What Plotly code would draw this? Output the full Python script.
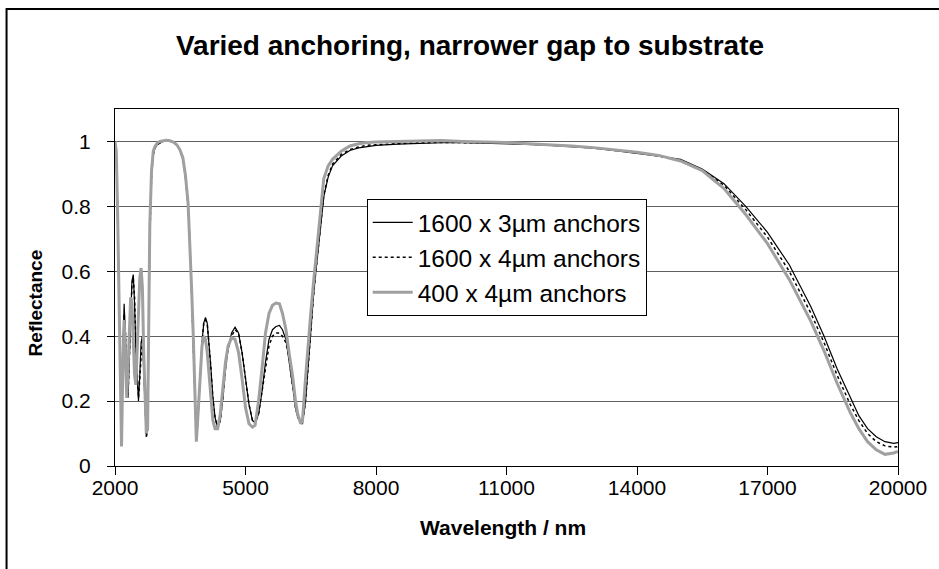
import plotly.graph_objects as go

# ---------------- data ----------------
wavelength = [
    2000, 2030, 2060, 2090, 2120, 2150, 2180, 2210, 2240, 2270, 2300, 2330, 2360, 2390,
    2420, 2450, 2480, 2510, 2540, 2570, 2600, 2630, 2660, 2690, 2720, 2750, 2780, 2800,
    2840, 2880, 2920, 2970, 3030, 3100, 3180, 3260, 3340, 3420, 3490, 3560, 3620, 3680,
    3720, 3760, 3800, 3830, 3870, 3900, 3950, 4000, 4040, 4080, 4120, 4160, 4200, 4250,
    4300, 4360, 4420, 4480, 4540, 4600, 4680, 4760, 4840, 4920, 5000, 5080, 5160, 5220,
    5300, 5380, 5460, 5540, 5620, 5700, 5780, 5850, 5930, 6000, 6080, 6150, 6200, 6270,
    6310, 6380, 6450, 6500, 6560, 6610, 6690, 6800, 6900, 7000, 7200, 7400, 7600, 7800,
    8000, 8500, 9000, 9500, 10000, 10500, 11000, 11500, 12000, 12500, 13000, 13500,
    14000, 14500, 15000, 15500, 16000, 16500, 17000, 17500, 18000, 18300, 18600, 18900,
    19100, 19300, 19500, 19700, 19900, 20000,
]

refl_1600_3um = [
    1.00, 0.95, 0.75, 0.50, 0.25, 0.08, 0.35, 0.50, 0.40, 0.25, 0.21, 0.35, 0.50, 0.57,
    0.59, 0.50, 0.35, 0.25, 0.20, 0.28, 0.38, 0.40, 0.30, 0.15, 0.09, 0.12, 0.45, 0.72,
    0.90, 0.96, 0.98, 0.99, 0.995, 1.00, 1.003, 1.002, 0.998, 0.99, 0.975, 0.945, 0.89,
    0.80, 0.70, 0.55, 0.38, 0.23, 0.08, 0.13, 0.26, 0.38, 0.44, 0.458, 0.44, 0.38, 0.31,
    0.21, 0.15, 0.118, 0.14, 0.21, 0.30, 0.36, 0.41, 0.428, 0.41, 0.35, 0.27, 0.19, 0.14,
    0.134, 0.16, 0.23, 0.32, 0.39, 0.42, 0.43, 0.433, 0.42, 0.39, 0.33, 0.25, 0.18, 0.15,
    0.135, 0.13, 0.20, 0.33, 0.42, 0.52, 0.59, 0.69, 0.83, 0.89, 0.925, 0.955, 0.972,
    0.98, 0.985, 0.988, 0.992, 0.995, 0.996, 0.996, 0.995, 0.994, 0.991, 0.988, 0.984,
    0.979, 0.972, 0.964, 0.955, 0.945, 0.915, 0.87, 0.80, 0.72, 0.62, 0.49, 0.40, 0.30,
    0.21, 0.155, 0.115, 0.09, 0.075, 0.07, 0.072,
]

refl_1600_4um = [
    1.00, 0.96, 0.77, 0.52, 0.27, 0.09, 0.32, 0.47, 0.42, 0.27, 0.22, 0.33, 0.48, 0.56,
    0.58, 0.52, 0.37, 0.27, 0.21, 0.27, 0.36, 0.40, 0.32, 0.17, 0.09, 0.11, 0.42, 0.70,
    0.89, 0.96, 0.98, 0.99, 0.995, 1.00, 1.003, 1.002, 0.998, 0.99, 0.975, 0.945, 0.89,
    0.80, 0.70, 0.55, 0.38, 0.23, 0.08, 0.13, 0.26, 0.38, 0.44, 0.45, 0.44, 0.38, 0.31,
    0.21, 0.15, 0.118, 0.14, 0.21, 0.30, 0.36, 0.40, 0.42, 0.41, 0.35, 0.27, 0.19, 0.14,
    0.13, 0.16, 0.23, 0.31, 0.37, 0.40, 0.41, 0.41, 0.40, 0.38, 0.33, 0.25, 0.18, 0.15,
    0.135, 0.13, 0.20, 0.33, 0.42, 0.52, 0.59, 0.69, 0.835, 0.895, 0.93, 0.96, 0.975,
    0.983, 0.988, 0.99, 0.994, 0.996, 0.997, 0.997, 0.996, 0.995, 0.992, 0.989, 0.985,
    0.980, 0.973, 0.965, 0.955, 0.94, 0.912, 0.865, 0.79, 0.705, 0.60, 0.47, 0.38, 0.28,
    0.19, 0.14, 0.10, 0.075, 0.062, 0.058, 0.06,
]

refl_400_4um = [
    1.00, 0.97, 0.78, 0.55, 0.30, 0.06, 0.30, 0.45, 0.35, 0.21, 0.30, 0.45, 0.52, 0.50,
    0.40, 0.28, 0.25, 0.35, 0.50, 0.58, 0.61, 0.55, 0.35, 0.18, 0.10, 0.12, 0.40, 0.74,
    0.91, 0.97, 0.985, 0.995, 1.00, 1.003, 1.004, 1.002, 0.998, 0.99, 0.975, 0.95, 0.895,
    0.81, 0.70, 0.55, 0.40, 0.225, 0.075, 0.14, 0.27, 0.37, 0.40, 0.39, 0.35, 0.28, 0.20,
    0.14, 0.115, 0.115, 0.16, 0.25, 0.32, 0.37, 0.395, 0.39, 0.35, 0.27, 0.18, 0.13, 0.12,
    0.125, 0.20, 0.30, 0.41, 0.47, 0.495, 0.502, 0.50, 0.47, 0.42, 0.35, 0.28, 0.20, 0.16,
    0.13, 0.14, 0.27, 0.40, 0.47, 0.56, 0.624, 0.726, 0.886, 0.925, 0.945, 0.97, 0.986,
    0.993, 0.997, 0.998, 1.00, 1.002, 1.003, 1.00, 0.999, 0.997, 0.993, 0.99, 0.986,
    0.981, 0.974, 0.967, 0.957, 0.94, 0.91, 0.855, 0.775, 0.685, 0.575, 0.445, 0.355, 0.255,
    0.165, 0.115, 0.075, 0.05, 0.036, 0.04, 0.045,
]

series_names = ["1600 x 3µm anchors", "1600 x 4µm anchors", "400 x 4µm anchors"]
x_ticks = [2000, 5000, 8000, 11000, 14000, 17000, 20000]
y_ticks = [0, 0.2, 0.4, 0.6, 0.8, 1]
y_tick_labels = ["0", "0.2", "0.4", "0.6", "0.8", "1"]

FONT = "Liberation Sans, Arial, sans-serif"

# window geometry (the page body margin is removed by the post script)
W, H = 939, 569
L, R, T, B = 115, 902, 109, 466   # plot area
PW, PH = R - L, B - T


def px(xw):
    return (xw - L) / PW


def py(yw):
    return (B - yw) / PH


fig = go.Figure()
fig.add_trace(go.Scatter(x=wavelength, y=refl_1600_3um, mode="lines", name=series_names[0],
                         line=dict(color="black", width=1.2)))
fig.add_trace(go.Scatter(x=wavelength, y=refl_1600_4um, mode="lines", name=series_names[1],
                         line=dict(color="black", width=1.5, dash="dot")))
fig.add_trace(go.Scatter(x=wavelength, y=refl_400_4um, mode="lines", name=series_names[2],
                         line=dict(color="#a0a0a0", width=3)))

fig.update_layout(
    width=W, height=H,
    margin=dict(l=L, r=W - R, t=T, b=H - B),
    paper_bgcolor="white", plot_bgcolor="white",
    font=dict(family=FONT, color="black", size=21),
    title=dict(text="<b>Varied anchoring, narrower gap to substrate</b>",
               x=470 / W, xref="container", xanchor="center",
               y=1 - 45 / H, yref="container", yanchor="middle",
               font=dict(size=28, family=FONT, color="black")),
    showlegend=True,
    legend=dict(x=px(368), y=py(199), xanchor="left", yanchor="top",
                bgcolor="white", bordercolor="black", borderwidth=1,
                font=dict(size=24.5, family=FONT, color="black"), itemwidth=40,
                tracegroupgap=0),
    xaxis=dict(range=[2000, 20000], tickmode="array", tickvals=x_ticks,
               ticktext=[str(v) for v in x_ticks], showgrid=False, zeroline=False,
               showline=True, linecolor="black", linewidth=1, mirror=True,
               ticks="outside", ticklen=3, tickcolor="black",
               minor=dict(ticks="outside", ticklen=8, tickcolor="black",
                          tickvals=x_ticks, showgrid=False),
               tickfont=dict(size=21, family=FONT, color="black")),
    yaxis=dict(range=[0, 1.1], tickmode="array", tickvals=y_ticks, ticktext=y_tick_labels,
               showgrid=True, gridcolor="#606060", gridwidth=1, zeroline=False,
               showline=True, linecolor="black", linewidth=1, mirror=True,
               ticks="outside", ticklen=7, tickcolor="black", ticklabelstandoff=12,
               tickfont=dict(size=21, family=FONT, color="black")),
    annotations=[
        dict(text="<b>Wavelength / nm</b>", xref="paper", yref="paper",
             x=px(505), y=py(527), xanchor="center", yanchor="middle",
             showarrow=False, font=dict(size=21, family=FONT, color="black")),
        dict(text="<b>Reflectance</b>", xref="paper", yref="paper",
             x=px(35), y=py(303), xanchor="center", yanchor="middle",
             textangle=-90, showarrow=False, font=dict(size=19, family=FONT, color="black")),
    ],
    shapes=[
        dict(type="rect", xref="paper", yref="paper",
             x0=px(6), x1=px(960), y0=py(600), y1=py(9),
             line=dict(color="black", width=2), fillcolor="rgba(0,0,0,0)", layer="below"),
    ],
)

fig.write_html("out.html", config={"displayModeBar": False},
               post_script="document.body.style.margin='0px';")
